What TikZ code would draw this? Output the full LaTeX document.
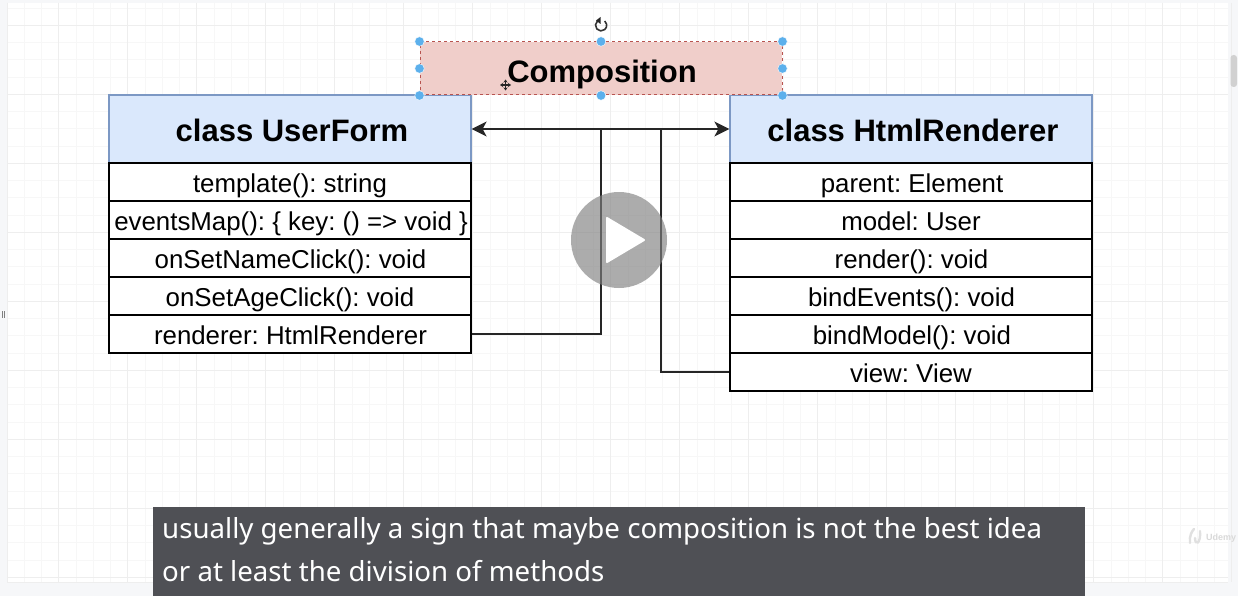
\documentclass[tikz,border=0pt]{standalone}
\usepackage{fontspec}
\setmainfont{Liberation Sans}
\newfontfamily\capfont{Noto Sans}
\usetikzlibrary{calc}
\usetikzlibrary{arrows.meta}
\definecolor{gridminor}{HTML}{F7F7F7}
\definecolor{gridmajor}{HTML}{EEEEEE}
\definecolor{pagegray}{HTML}{F6F7F9}
\definecolor{headblue}{HTML}{DAE8FC}
\definecolor{headline}{HTML}{7C98C4}
\definecolor{comppink}{HTML}{F0CECA}
\definecolor{compline}{HTML}{B85450}
\definecolor{handleblue}{HTML}{5CB0EC}
\definecolor{capgray}{HTML}{4F5055}
\tikzset{
  header/.style= {draw=headline, fill=headblue, line width=1.2pt, minimum width=362pt, minimum height=68pt, inner sep=0pt, text height=30pt, text depth=4pt, font=\fontsize{31}{36}\selectfont\bfseries},
  row/.style= {draw=black, fill=white, line width=1.3pt, minimum width=362pt, minimum height=38pt, inner sep=0pt, text height=24pt, text depth=4pt, font=\fontsize{25.85}{30}\selectfont},
  handle/.style= {circle, fill=handleblue, draw=white, line width=0.4pt, minimum size=9.5pt, inner sep=0pt},
  link/.style= {draw=black!85, line width=1.4pt},
  captext/.style= {anchor=base west, inner sep=0pt, text=white, font=\capfont\fontsize{27.65}{32}\selectfont},
}
\begin{document}
\frenchspacing
\begin{tikzpicture}[x=1pt, y=-1pt]
  \useasboundingbox (0,0) rectangle (1238,596);
  \fill [pagegray] (0,0) rectangle (1238,596);
  \fill [white] (7,3) rectangle (1228,582); % hoja
  % grilla
  \foreach \i in {0,...,70} {
    \draw [gridminor, line width=0.8pt] ({7+17.25*\i},3) -- ({7+17.25*\i},582);
  }
  \foreach \i in {0,...,33} {
    \draw [gridminor, line width=0.8pt] (7,{8+17.25*\i}) -- (1228,{8+17.25*\i});
  }
  \foreach \i in {0,...,17} {
    \draw [gridmajor, line width=0.8pt] ({58+69*\i},3) -- ({58+69*\i},582);
  }
  \foreach \i in {0,...,8} {
    \draw [gridmajor, line width=0.8pt] (7,{25+69*\i}) -- (1228,{25+69*\i});
  }
  \draw [gridmajor, line width=0.8pt] (7,3) -- (7,582) -- (1228,582);
  \fill [black!18, rounded corners=3pt] (1230.5,55) rectangle (1237,87); % barra
  \fill [black!50] (1.5,311) rectangle (2.5,318);
  \fill [black!50] (3.5,311) rectangle (4.5,318); % marca izquierda
  % clase izquierda
  \node [header] (userform) at (290,129) {\hspace*{4pt}class UserForm};
  \node [row] (template) at (290,182) {template(): string};
  \node [row] (eventsmap) at (290,220) {\hspace*{2pt}eventsMap(): \{ key: () => void \}};
  \node [row] (setname) at (290,258) {\hspace*{1pt}onSetNameClick(): void};
  \node [row] (setage) at (290,296) {onSetAgeClick(): void};
  \node [row] (renderer) at (290,334) {\hspace*{1pt}renderer: HtmlRenderer};
  % clase derecha
  \node [header] (htmlrenderer) at (911,129) {\hspace*{4pt}class HtmlRenderer};
  \node [row] (parent) at (911,182) {\hspace*{2pt}parent: Element};
  \node [row] (model) at (911,220) {model: User};
  \node [row] (render) at (911,258) {\hspace*{1pt}render(): void};
  \node [row] (bindevents) at (911,296) {\hspace*{1pt}bindEvents(): void};
  \node [row] (bindmodel) at (911,334) {\hspace*{2pt}bindModel(): void};
  \node [row] (view) at (911,372) {view: View};
  % composicion
  \node [draw=compline, dashed, fill=comppink, line width=1pt, minimum width=362pt, minimum height=53pt, inner sep=0pt, text height=33pt, text depth=4pt, font=\fontsize{31}{36}\selectfont\bfseries] (composition) at (601,68.5) {\hspace*{2pt}Composition};
  \foreach \name/\anc in {nw/north west, n/north, ne/north east, w/west, e/east, sw/south west, s/south, se/south east} {
    \node [handle] (h\name) at (composition.\anc) {};
  }
  % icono girar
  \draw [black!80, line width=1.6pt] (597.5,21) arc (-130+360:-50:5.6);
  \fill [black!85] (600.5,17) -- (600.5,24) -- (596,20.5) -- cycle;
  % cursor mover
  \draw [black!85, line width=1.2pt, {Stealth[length=3pt, width=4pt]}-{Stealth[length=3pt, width=4pt]}] (500,85) -- (511,85);
  \draw [black!85, line width=1.2pt, {Stealth[length=3pt, width=4pt]}-{Stealth[length=3pt, width=4pt]}] (505.5,79.5) -- (505.5,90.5);
  % conectores
  \coordinate (joinuser) at (601,129);
  \coordinate (joinview) at (661,129);
  \draw [link, {Stealth[length=15pt, width=15pt, inset=4pt]}-{Stealth[length=15pt, width=15pt, inset=4pt]}] (userform.east) -- (htmlrenderer.west);
  \draw [link] (renderer.east) -| (joinuser);
  \draw [link] (view.west) -| (joinview);
  % boton play
  \fill [black!50, opacity=0.65] (619,240) circle (48);
  \fill [white, draw=white, line width=2pt, line join=round] (607,218) -- (607,262) -- (644,240) -- cycle;
  % subtitulo
  \fill [capgray] (153,507) rectangle (1085,596);
  \node [captext] (capone) at (162,538) {usually generally a sign that maybe composition is not the best idea};
  \node [captext] (captwo) at (162,581) {or at least the division of methods};
  % marca de agua
  \draw [black!12, line width=2.4pt, line cap=round] (1190,543) .. controls (1189,536) and (1192,531) .. (1194,529) (1195,538) .. controls (1195,546) and (1201,544) .. (1200,531);
  \node [anchor=base west, inner sep=0pt, text=black!15, font=\fontsize{9}{10}\selectfont\bfseries] (udemy) at (1206,540) {Udemy};
\end{tikzpicture}
\end{document}
